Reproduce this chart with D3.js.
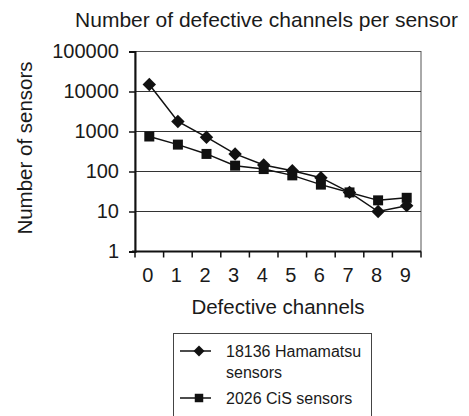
<!DOCTYPE html>
<html>
<head>
<meta charset="utf-8">
<script src="https://cdn.jsdelivr.net/npm/d3@7"></script>
<style>
  body { margin: 0; background: #fff; }
  svg text { font-family: "Liberation Sans", Arial, sans-serif; fill: #1a1a1a; }
</style>
</head>
<body>
<svg id="chart" width="469" height="416"></svg>
<script>
// data
const channels = ["0", "1", "2", "3", "4", "5", "6", "7", "8", "9"];
const hamamatsu = [15000, 1780, 720, 275, 145, 105, 70, 30, 10, 14];
const cis = [750, 470, 275, 140, 115, 80, 47, 30, 19, 22];
const yTicks = [1, 10, 100, 1000, 10000, 100000];
const seriesNames = ["18136 Hamamatsu|sensors", "2026 CiS sensors"];

const svg = d3.select("#chart");
const mLeft = 135, mRight = 421, mTop = 51.5, mBottom = 251.5;

const x = d3.scaleBand().domain(channels).range([mLeft, mRight]);
const y = d3.scaleLog().domain([1, 100000]).range([mBottom, mTop]);

// title
svg.append("text")
    .attr("x", 266.5).attr("y", 27)
    .attr("text-anchor", "middle")
    .style("font-size", "21px")
    .text("Number of defective channels per sensor");

// frame + grid
svg.append("rect")
    .attr("x", mLeft).attr("y", mTop)
    .attr("width", mRight - mLeft).attr("height", mBottom - mTop)
    .attr("fill", "none").attr("stroke", "#555").attr("stroke-width", 1);

svg.append("g")
    .selectAll("line")
    .data(yTicks.slice(1, -1))
    .join("line")
    .attr("x1", mLeft).attr("x2", mRight)
    .attr("y1", d => y(d)).attr("y2", d => y(d))
    .attr("stroke", "#333").attr("stroke-width", 1);

// y axis
const yAxis = svg.append("g")
    .attr("transform", `translate(${mLeft},0)`)
    .call(d3.axisLeft(y).tickValues(yTicks).tickFormat(d3.format("d")).tickSize(6).tickPadding(10));
yAxis.select(".domain").attr("stroke", "#111").attr("stroke-width", 2);
yAxis.selectAll(".tick line").attr("stroke", "#111").attr("stroke-width", 1.5);
yAxis.selectAll("text").style("font-size", "20px").attr("font-family", null);

// x axis - ticks on category boundaries like excel
const xAxis = svg.append("g")
    .attr("transform", `translate(0,${mBottom})`);
xAxis.append("line")
    .attr("x1", mLeft - 3).attr("x2", mRight)
    .attr("stroke", "#111").attr("stroke-width", 2);
xAxis.selectAll("line.tk")
    .data(d3.range(channels.length + 1))
    .join("line")
    .attr("class", "tk")
    .attr("x1", i => mLeft + i * x.bandwidth())
    .attr("x2", i => mLeft + i * x.bandwidth())
    .attr("y1", 0).attr("y2", 6)
    .attr("stroke", "#111").attr("stroke-width", 1.5);
xAxis.selectAll("text")
    .data(channels)
    .join("text")
    .attr("x", d => x(d) + x.bandwidth() / 2 - 1.5)
    .attr("y", 30.5)
    .attr("text-anchor", "middle")
    .style("font-size", "20px")
    .text(d => d);

// axis titles
svg.append("text")
    .attr("x", 278).attr("y", 314)
    .attr("text-anchor", "middle")
    .style("font-size", "20.5px")
    .text("Defective channels");

svg.append("text")
    .attr("transform", "translate(32,148) rotate(-90)")
    .attr("text-anchor", "middle")
    .style("font-size", "20.5px")
    .text("Number of sensors");

// series
const cx = (d, i) => x(channels[i]) + x.bandwidth() / 2;
const line = d3.line().x(cx).y(d => y(d));

function drawSeries(vals, shape, size) {
    svg.append("path")
        .datum(vals)
        .attr("d", line)
        .attr("fill", "none")
        .attr("stroke", "#111")
        .attr("stroke-width", 1.5);
    svg.append("g")
        .selectAll("path")
        .data(vals)
        .join("path")
        .attr("transform", (d, i) => `translate(${cx(d, i)},${y(d)})`)
        .attr("d", d3.symbol().type(shape).size(size))
        .attr("fill", "#111");
}
const diamond = {
    draw(ctx, size) {
        const r = Math.sqrt(size) / 2;
        ctx.moveTo(0, -r); ctx.lineTo(r, 0); ctx.lineTo(0, r); ctx.lineTo(-r, 0); ctx.closePath();
    }
};
drawSeries(cis, d3.symbolSquare, 100);
drawSeries(hamamatsu, diamond, 180);

// legend
const lg = svg.append("g");
lg.append("rect")
    .attr("x", 173.5).attr("y", 333.5)
    .attr("width", 198).attr("height", 100)
    .attr("fill", "none").attr("stroke", "#444").attr("stroke-width", 1);

const entries = [
    { y: 351, shape: diamond, size: 120, label: seriesNames[0] },
    { y: 398, shape: d3.symbolSquare, size: 72, label: seriesNames[1] }
];
entries.forEach(e => {
    lg.append("line")
        .attr("x1", 180).attr("x2", 211)
        .attr("y1", e.y).attr("y2", e.y)
        .attr("stroke", "#111").attr("stroke-width", 1.5);
    lg.append("path")
        .attr("transform", `translate(199,${e.y})`)
        .attr("d", d3.symbol().type(e.shape).size(e.size))
        .attr("fill", "#111");
    const t = lg.append("text")
        .attr("x", 226).attr("y", e.y + 5.5)
        .style("font-size", "16px");
    e.label.split("|").forEach((s, k) => {
        t.append("tspan").attr("x", 226).attr("dy", k ? 21 : 0).text(s);
    });
});
</script>
</body>
</html>
